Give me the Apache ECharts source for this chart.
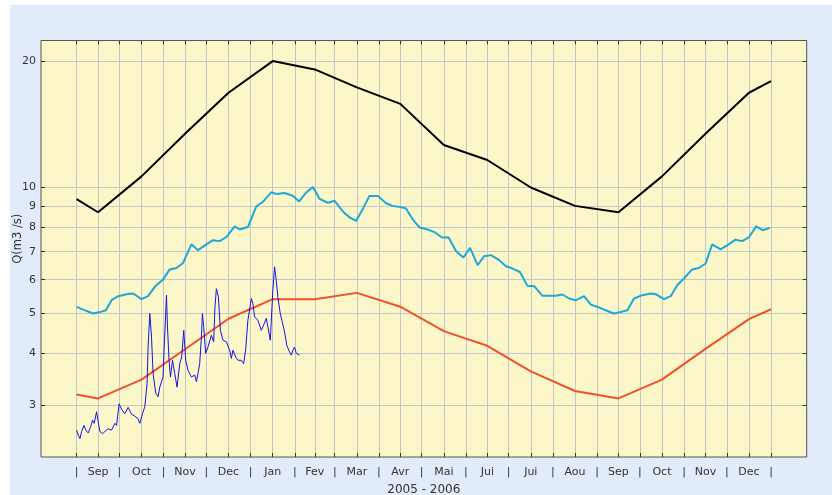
<!DOCTYPE html>
<html><head><meta charset="utf-8">
<script src="https://cdn.jsdelivr.net/npm/echarts@6/dist/echarts.min.js"></script>
<style>
html,body{margin:0;padding:0;background:#fff;}
#wrap{position:relative;width:836px;height:495px;background:#fff;}
#panel{position:absolute;left:10px;top:5px;width:822px;height:490px;background:#e2ebfa;}
#c{position:absolute;left:0;top:0;width:836px;height:495px;}
</style>
</head><body>
<div id="wrap"><div id="panel"></div><div id="c"></div></div>
<script>
// ---- data ----
const monthNames = ['Sep','Oct','Nov','Dec','Jan','Fev','Mar','Avr','Mai','Jui','Jui','Aou','Sep','Oct','Nov','Dec'];
const yTicks = [3,4,5,6,7,8,9,10,20];
const axisTitle = '2005 - 2006';
const yTitle = 'Q(m3 /s)';
// monthly curves: value at first boundary, 16 mid-month values, value at last boundary
const maxValues = [9.35, 8.7, 10.6, 13.4, 16.8, 20.0, 19.1, 17.3, 15.8, 12.6, 11.6, 9.97, 9.01, 8.7, 10.6, 13.4, 16.8, 17.9];
const minValues = [3.19, 3.12, 3.46, 4.09, 4.84, 5.39, 5.39, 5.58, 5.17, 4.52, 4.17, 3.62, 3.25, 3.12, 3.46, 4.10, 4.83, 5.10];
// mean daily curve (days since 2005-09-01)
const meanDays = [0,4.6,11.6,16.3,20.5,24.5,29.1,35,39.6,45.5,50.1,54.8,60.6,65.3,70,74.6,80.5,85.1,91,95.6,100.3,105,110.8,114.3,120.1,126,130.6,136.5,140,145.8,151.6,156,161,165.7,170.3,176.2,180.8,186.7,191.3,196,200.6,205.3,211.2,217,221.7,227.8,231,235.7,240.4,246.2,250.9,256.2,260.9,266,271.2,275.9,281.2,285.9,290.6,296.4,301.1,305.7,310.9,316.2,320.9,326.7,336.1,340.7,345.4,350.1,355.9,360.6,366.4,372.2,376.9,381.6,386.2,390.9,396.7,402.6,406.1,411.9,416.6,421.2,425.9,431.7,436.4,441.1,445.7,451.6,456.2,462.1,466.7,471.4,476.5,481.2,486.1];
const meanValues = [5.165,5.09,4.98,5.02,5.07,5.36,5.48,5.54,5.56,5.39,5.48,5.77,6.01,6.35,6.40,6.58,7.29,7.06,7.29,7.46,7.42,7.59,8.05,7.91,8.02,8.99,9.21,9.71,9.62,9.67,9.53,9.23,9.70,10.0,9.37,9.16,9.27,8.74,8.46,8.29,8.84,9.52,9.52,9.14,9.01,8.94,8.88,8.36,8.00,7.91,7.80,7.57,7.57,7.03,6.78,7.15,6.50,6.83,6.87,6.68,6.46,6.38,6.26,5.80,5.79,5.49,5.49,5.53,5.41,5.36,5.48,5.23,5.15,5.05,4.98,5.02,5.07,5.41,5.51,5.56,5.54,5.39,5.48,5.82,6.04,6.35,6.40,6.56,7.29,7.09,7.25,7.48,7.42,7.57,8.05,7.88,7.98];
// observed daily flow 2005-2006 (days since 2005-09-01)
const obsDays = [0,1.1,2.3,3.5,5.1,6.5,8.1,9.8,11.2,12.3,14,15.1,16.3,18.2,19.8,22.1,24.5,26.8,28,29.8,31.5,33.8,36.1,38.5,40.8,43.1,44.3,46.2,47.8,49.4,50.1,51.3,52.5,53.6,55.5,57.1,58.3,59.5,60.6,61.3,62.5,63,63.7,64.8,65.8,67.2,68.8,70.4,72.3,73.7,75.1,76.5,78.1,80.5,82.8,84,85.1,86.3,87.5,88.2,89.1,90.5,92.1,94.5,96.1,97,98,99.4,100.8,102.6,105,107.3,108.5,109.6,111.5,113.1,115.5,117.1,118.5,120.1,122.5,123.6,124.8,127.1,129.5,131.1,133,134.1,135.8,136.7,137.6,138.8,140,141.1,142.8,144.2,145.8,147.4,149.3,150.5,151.7,152.8,154,155.2,156.3];
const obsValues = [2.62,2.55,2.50,2.60,2.69,2.62,2.58,2.67,2.77,2.72,2.90,2.74,2.60,2.57,2.60,2.64,2.62,2.72,2.69,3.03,2.94,2.87,2.97,2.86,2.83,2.79,2.72,2.87,2.98,3.39,4.14,4.98,4.38,3.58,3.21,3.15,3.32,3.42,3.51,4.07,5.02,5.51,4.63,3.85,3.51,3.85,3.58,3.32,3.78,3.92,4.54,3.85,3.64,3.51,3.55,3.42,3.58,3.78,4.38,4.98,4.63,4.00,4.14,4.42,4.26,5.165,5.71,5.46,4.54,4.30,4.26,4.07,3.89,4.07,3.92,3.85,3.85,3.78,4.07,4.80,5.41,5.26,4.89,4.80,4.54,4.67,4.85,4.63,4.30,4.26,5.66,6.44,5.98,5.46,4.98,4.76,4.50,4.18,4.03,3.96,4.07,4.14,4.00,4.03,3.96];

// ---- calendar helpers ----
const t0 = Date.UTC(2005, 8, 1);
const dayOf = (y, m, d) => (Date.UTC(y, m, d) - t0) / 86400000;
const monthStarts = [];
for (let i = 0; i <= monthNames.length; i++) monthStarts.push(dayOf(2005, 8 + i, 1));
const monthMids = [];
for (let i = 0; i < monthNames.length; i++) monthMids.push((monthStarts[i] + monthStarts[i + 1]) / 2);
const gridDays = monthStarts.concat(monthMids).sort((a, b) => a - b);
const labelMap = {};
monthStarts.forEach(d => labelMap[d.toFixed(1)] = '|');
monthMids.forEach((d, i) => labelMap[d.toFixed(1)] = monthNames[i]);
const monthlyX = [monthStarts[0]].concat(monthMids, [monthStarts[monthStarts.length - 1]]);
const pairs = (xs, vs) => vs.map((v, i) => [xs[i], v]);

const FONT = 'DejaVu Sans';
const X_MIN = -25, X_MAX = 512, Y_MIN = 2.26, Y_MAX = 22.4;
const tickStyle = {color: '#333', width: 1};
const gridColor = '#c6c6c6';
const noLine = {show: false, onZero: false};

const chart = echarts.init(document.getElementById('c'), null, {renderer: 'canvas'});
chart.setOption({
  backgroundColor: 'transparent',
  animation: false,
  grid: {left: 41, top: 40.5, right: 29.3, bottom: 38, show: true, backgroundColor: '#fcf7c8', borderColor: '#555', borderWidth: 1, outerBoundsMode: 'none', containLabel: false},
  xAxis: [{
    type: 'value', position: 'bottom', min: X_MIN, max: X_MAX,
    axisLine: noLine,
    axisTick: {show: true, inside: true, length: 4, customValues: gridDays, lineStyle: tickStyle},
    axisLabel: {show: true, customValues: gridDays, margin: 10, color: '#333', fontFamily: FONT, fontSize: 11,
      formatter: v => labelMap[Number(v).toFixed(1)] || ''},
    splitLine: {show: true, lineStyle: {color: gridColor, width: 1}},
    name: axisTitle, nameLocation: 'middle', nameGap: 27, nameMoveOverlap: false,
    nameTextStyle: {color: '#333', fontFamily: FONT, fontSize: 12}
  }, {
    type: 'value', position: 'top', min: X_MIN, max: X_MAX,
    axisLine: noLine,
    axisTick: {show: true, inside: true, length: 4, customValues: gridDays, lineStyle: tickStyle},
    axisLabel: {show: false}, splitLine: {show: false}
  }],
  yAxis: [{
    type: 'log', logBase: 10, position: 'left', min: Y_MIN, max: Y_MAX,
    axisLine: noLine,
    axisTick: {show: true, inside: true, length: 4, customValues: yTicks, lineStyle: tickStyle},
    axisLabel: {show: true, customValues: yTicks, margin: 5, color: '#333', fontFamily: FONT, fontSize: 11},
    splitLine: {show: true, lineStyle: {color: gridColor, width: 1}},
    minorTick: {show: false}, minorSplitLine: {show: false},
    name: yTitle, nameLocation: 'middle', nameGap: 17, nameMoveOverlap: false,
    nameTextStyle: {color: '#333', fontFamily: FONT, fontSize: 11.5, padding: [0, 0, 0, 20]}
  }, {
    type: 'log', logBase: 10, position: 'right', min: Y_MIN, max: Y_MAX,
    axisLine: noLine,
    axisTick: {show: true, inside: true, length: 4, customValues: yTicks, lineStyle: tickStyle},
    axisLabel: {show: false}, splitLine: {show: false}
  }],
  series: [
    {type: 'line', data: pairs(monthlyX, maxValues), showSymbol: false, lineStyle: {color: '#000', width: 2}, z: 3},
    {type: 'line', data: pairs(meanDays, meanValues), showSymbol: false, lineStyle: {color: '#1ba9da', width: 2}, z: 3},
    {type: 'line', data: pairs(monthlyX, minValues), showSymbol: false, lineStyle: {color: '#f0502c', width: 2}, z: 3},
    {type: 'line', data: pairs(obsDays, obsValues), showSymbol: false, lineStyle: {color: '#1414e6', width: 1}, z: 4}
  ]
});
</script>
</body></html>
